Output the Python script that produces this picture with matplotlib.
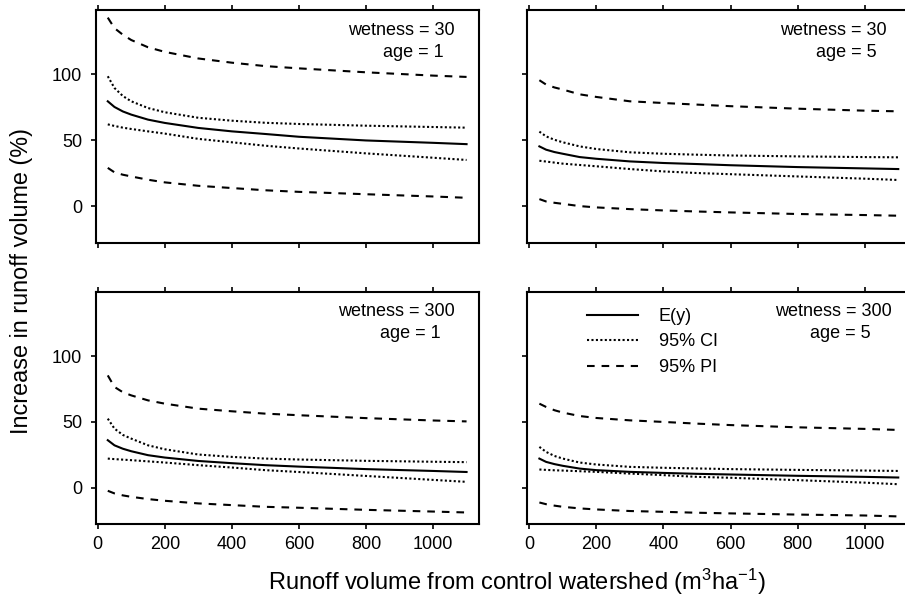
import matplotlib
matplotlib.use("Agg")
import matplotlib.pyplot as plt
from matplotlib.lines import Line2D

plt.rcParams['font.family'] = ['Liberation Sans', 'DejaVu Sans']
plt.rcParams['lines.scale_dashes'] = False
plt.rcParams['mathtext.fontset'] = 'custom'
plt.rcParams['mathtext.rm'] = 'Liberation Sans'
plt.rcParams['mathtext.it'] = 'Liberation Sans'
plt.rcParams['mathtext.bf'] = 'Liberation Sans'

# x values of the curves (control watershed runoff, m3/ha)
x = [30, 50, 75, 100, 150, 200, 300, 400, 500, 600, 800, 1000, 1100]

# wetness = 30, age = 1
tl_upi = [143, 135, 130, 126, 120.5, 117, 112, 108.8, 106.2, 104.5, 101.5, 99, 98]
tl_uci = [98.5, 89.6, 83.5, 79.5, 74.4, 71.2, 67, 64.8, 63.2, 62.3, 61, 60, 59.5]
tl_ey = [79.5, 75.2, 71.8, 69.4, 65.6, 63.1, 59.3, 56.7, 54.7, 52.6, 49.8, 48, 47]
tl_lci = [62, 60.8, 59.5, 58.5, 56.7, 55, 51, 48.4, 45.8, 43.7, 40, 36.7, 35]
tl_lpi = [29, 25.6, 23.8, 22.5, 20, 18, 15.4, 13.7, 12, 10.8, 9, 7.3, 6.3]

# wetness = 30, age = 5
tr_upi = [95.5, 92.2, 90, 88.4, 84.8, 82.8, 79.5, 78.2, 77, 75.8, 73.9, 72.4, 71.9]
tr_uci = [56.5, 52.9, 50.3, 48.4, 45.3, 43.3, 40.8, 39.7, 39, 38.4, 37.7, 37.2, 37]
tr_ey = [45.3, 42.8, 41, 39.7, 37.2, 35.9, 33.9, 32.7, 31.9, 31, 29.6, 28.6, 28.1]
tr_lci = [34.4, 33.8, 33, 32.2, 31.2, 30.2, 28.1, 26.3, 25.1, 24.2, 22.5, 20.8, 19.8]
tr_lpi = [5.3, 3.5, 2.5, 1.7, 0, -1, -2.3, -3.3, -4.1, -4.8, -6, -6.8, -7.3]

# wetness = 300, age = 1
bl_upi = [85.3, 76.5, 72.5, 70.1, 66.3, 63.8, 60, 58, 56.2, 55, 52.8, 51, 50.3]
bl_uci = [52.4, 44.8, 40, 37.2, 32.1, 29.1, 25.1, 23.3, 22, 21.3, 20.3, 19.6, 19.3]
bl_ey = [36, 32.1, 29.5, 27.6, 24.6, 22.8, 20.2, 18.5, 17, 15.9, 14, 12.6, 11.8]
bl_lci = [22, 21.6, 21.2, 20.8, 19.9, 19, 17, 15.2, 13.2, 11.8, 8.8, 5.8, 4.3]
bl_lpi = [-2.5, -4.5, -6, -7.1, -8.8, -10.1, -12.1, -13.4, -14.7, -15.4, -17, -18.3, -19]

# wetness = 300, age = 5
br_upi = [63.8, 61.3, 58.8, 57, 54.4, 52.9, 51.1, 49.9, 48.6, 47.5, 45.8, 44.6, 43.8]
br_uci = [30.9, 27.1, 24, 22, 19, 17.5, 15.7, 15, 14.5, 14, 13.4, 12.9, 12.6]
br_ey = [22, 19.5, 17.8, 16.5, 14.4, 13.2, 11.9, 11.1, 10.4, 9.9, 8.9, 8.1, 7.6]
br_lci = [13.7, 13.4, 13.1, 12.9, 12.4, 11.9, 10.6, 9.4, 8.1, 7.4, 5.6, 3.7, 2.5]
br_lpi = [-11.4, -12.7, -13.8, -14.7, -15.9, -16.7, -17.9, -18.5, -19.2, -19.7, -20.6, -21.3, -22]

panel_wetness = ["wetness = 30", "wetness = 30", "wetness = 300", "wetness = 300"]
panel_age = ["age = 1", "age = 5", "age = 1", "age = 5"]
xticks = [0, 200, 400, 600, 800, 1000]
yticks = [0, 50, 100]
legend_labels = ["E(y)", "95% CI", "95% PI"]

panels = [
    (tl_upi, tl_uci, tl_ey, tl_lci, tl_lpi),
    (tr_upi, tr_uci, tr_ey, tr_lci, tr_lpi),
    (bl_upi, bl_uci, bl_ey, bl_lci, bl_lpi),
    (br_upi, br_uci, br_ey, br_lci, br_lpi),
]

W, H = 905, 601
fig = plt.figure(figsize=(W / 100, H / 100), dpi=100)

def rect(l, t, r, b):
    return [l / W, 1 - b / H, (r - l) / W, (b - t) / H]

rects = [rect(95.7, 9.7, 479.3, 243), rect(527.3, 9.7, 911, 243),
         rect(95.7, 291.7, 479.3, 524.3), rect(527.3, 291.7, 911, 524.3)]

LW = 1.5
solid = dict(color='black', lw=LW, linestyle='-')
dotted = dict(color='black', lw=LW, linestyle=(0, (1.5, 1.7)), dash_capstyle='butt')
dashed = dict(color='black', lw=LW, linestyle=(0, (5.5, 5.0)), dash_capstyle='butt')

# text positions (pixel centers / baselines)
wet_pos = [(401, 35), (833, 35), (396.7, 315.7), (833, 315.7)]
age_pos = [(413, 57.3), (846, 57.3), (410, 338.3), (840.5, 338.3)]

axes = []
for i, (r, data) in enumerate(zip(rects, panels)):
    ax = fig.add_axes(r)
    axes.append(ax)
    upi, uci, ey, lci, lpi = data
    ax.plot(x, upi, **dashed)
    ax.plot(x, uci, **dotted)
    ax.plot(x, ey, **solid)
    ax.plot(x, lci, **dotted)
    ax.plot(x, lpi, **dashed)
    ax.set_xlim(-6, 1138)
    ax.set_ylim(-28, 149)
    ax.set_xticks(xticks)
    ax.set_yticks(yticks)
    for s in ax.spines.values():
        s.set_linewidth(1.5)
    ax.tick_params(axis='both', direction='out', length=3.6, width=1.2,
                   labelsize=13, colors='black')
    ax.tick_params(axis='x', top=True, bottom=True, pad=5)
    ax.tick_params(axis='y', left=True, right=False, pad=6)
    if i in (0, 1):
        ax.tick_params(axis='x', labelbottom=False)
    if i in (1, 3):
        ax.tick_params(axis='y', labelleft=False)
    fig.text(wet_pos[i][0] / W, 1 - wet_pos[i][1] / H, panel_wetness[i],
             ha='center', va='baseline', fontsize=13)
    fig.text(age_pos[i][0] / W, 1 - age_pos[i][1] / H, panel_age[i],
             ha='center', va='baseline', fontsize=13)

handles = [Line2D([], [], **solid), Line2D([], [], **dotted), Line2D([], [], **dashed)]
leg = axes[3].legend(handles, legend_labels, loc='upper left',
                     bbox_to_anchor=(587 / W, 1 - 308 / H),
                     bbox_transform=fig.transFigure, frameon=False, fontsize=13,
                     handlelength=2.82, handletextpad=1.16, labelspacing=0.47,
                     borderpad=0, borderaxespad=0)

fig.text(516.5 / W, 1 - 590 / H,
         r"Runoff volume from control watershed (m$^{\mathregular{3}}$ha$^{\mathregular{-1}}$)",
         ha='center', va='baseline', fontsize=17)
fig.text(22 / W, 1 - 281 / H, "Increase in runoff volume (%)",
         ha='center', va='center', rotation=90, fontsize=16.8)

fig.savefig("out.png", dpi=100)
